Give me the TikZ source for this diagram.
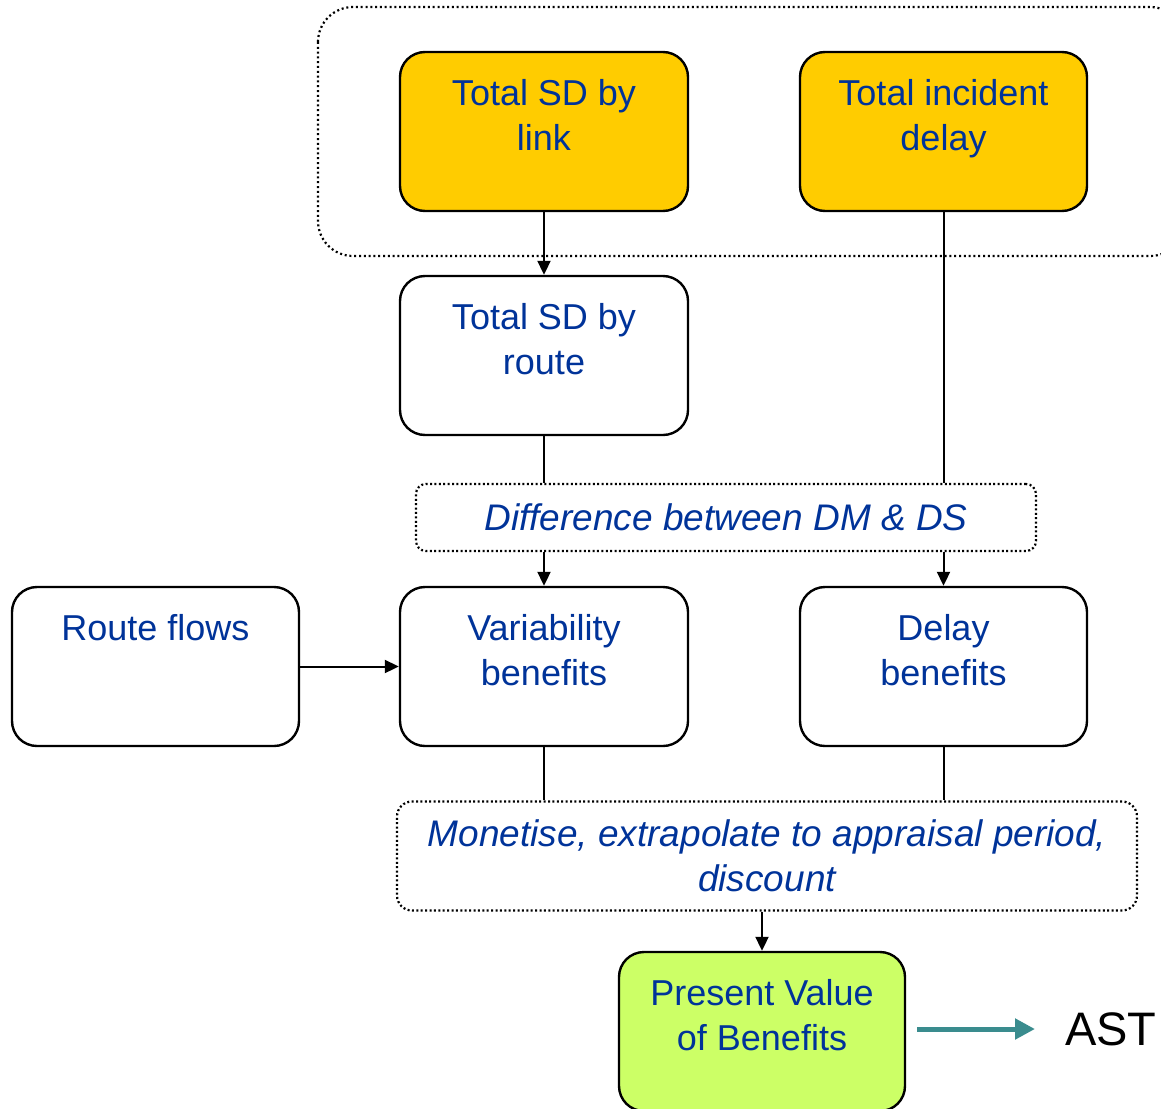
\documentclass[tikz,border=0pt]{standalone}
\usepackage{fontspec}
\setmainfont{Liberation Sans}
\usetikzlibrary{arrows.meta}
\definecolor{txtblue}{RGB}{0,51,153}
\definecolor{gold}{RGB}{255,204,0}
\definecolor{lime}{RGB}{204,255,102}
\definecolor{teal2}{RGB}{58,140,142}
\newcommand{\boxtxt}[3]{\parbox[c][#2][t]{#1}{\centering\vspace*{27pt}#3\par}}
\begin{document}
\begin{tikzpicture}[x=1pt,y=-1pt,
  font=\fontsize{36pt}{45pt}\selectfont,
  solidbox/.style={draw=black, line width=2.4pt, rounded corners=25pt, inner sep=0pt, text=txtblue},
  dotline/.style={draw=black, line width=2.2pt, dash pattern=on 2pt off 2.4pt},
  dotbox/.style={dotline, inner sep=0pt, text=txtblue, align=center, font=\fontsize{37pt}{45pt}\selectfont\itshape},
  conn/.style={draw=black, line width=2pt},
  arr/.style={conn, -{Triangle[length=14pt,width=13pt]}}
]
\useasboundingbox (0,0) rectangle (1161,1108);
\clip (0,0) rectangle (1161,1108);

% container
\draw[dotline, dash pattern=on 2pt off 2.8pt, rounded corners=35pt] (318,7) rectangle (1185,256);

\node[solidbox, fill=gold] (link) at (544,131.5) {\boxtxt{288pt}{159pt}{Total SD by\\link}};
\node[solidbox, fill=gold] (inc) at (943.5,131.5) {\boxtxt{287pt}{159pt}{Total incident\\delay}};
\node[solidbox, fill=white] (route) at (544,355.5) {\boxtxt{288pt}{159pt}{Total SD by\\route}};
\node[dotbox, rounded corners=10pt, minimum width=620pt, minimum height=67pt] (diff) at (726,517.5) {Difference between DM \& DS};
\node[solidbox, fill=white] (flows) at (155.5,666.5) {\boxtxt{287pt}{159pt}{Route flows}};
\node[solidbox, fill=white] (var) at (544,666.5) {\boxtxt{288pt}{159pt}{Variability\\benefits}};
\node[solidbox, fill=white] (delay) at (943.5,666.5) {\boxtxt{287pt}{159pt}{Delay\\benefits}};
\node[dotbox, rounded corners=15pt, minimum width=740pt, minimum height=109pt] (mon) at (767,856) {Monetise, extrapolate to appraisal period,\\discount};
\node[solidbox, fill=lime] (pv) at (762,1031.5) {\boxtxt{286pt}{159pt}{Present Value\\of Benefits}};
\node[inner sep=0pt, anchor=west, font=\fontsize{47pt}{50pt}\selectfont] (ast) at (1065,1029) {AST};
\coordinate (astart) at ([xshift=11pt]pv.east);

\draw[arr] (link.south) -- (route.north);
\draw[conn] (route.south) -- (route.south |- diff.north);
\draw[conn] (inc.south) -- (inc.south |- diff.north);
\draw[arr] (var.north |- diff.south) -- (var.north);
\draw[arr] (delay.north |- diff.south) -- (delay.north);
\draw[arr] (flows.east) -- (var.west);
\draw[conn] (var.south) -- (var.south |- mon.north);
\draw[conn] (delay.south) -- (delay.south |- mon.north);
\draw[arr] (pv.north |- mon.south) -- (pv.north);
\draw[teal2, line width=5pt, -{Triangle[length=20pt,width=20pt]}] (astart |- ast.west) -- ([xshift=-30pt]ast.west);
\end{tikzpicture}
\end{document}
